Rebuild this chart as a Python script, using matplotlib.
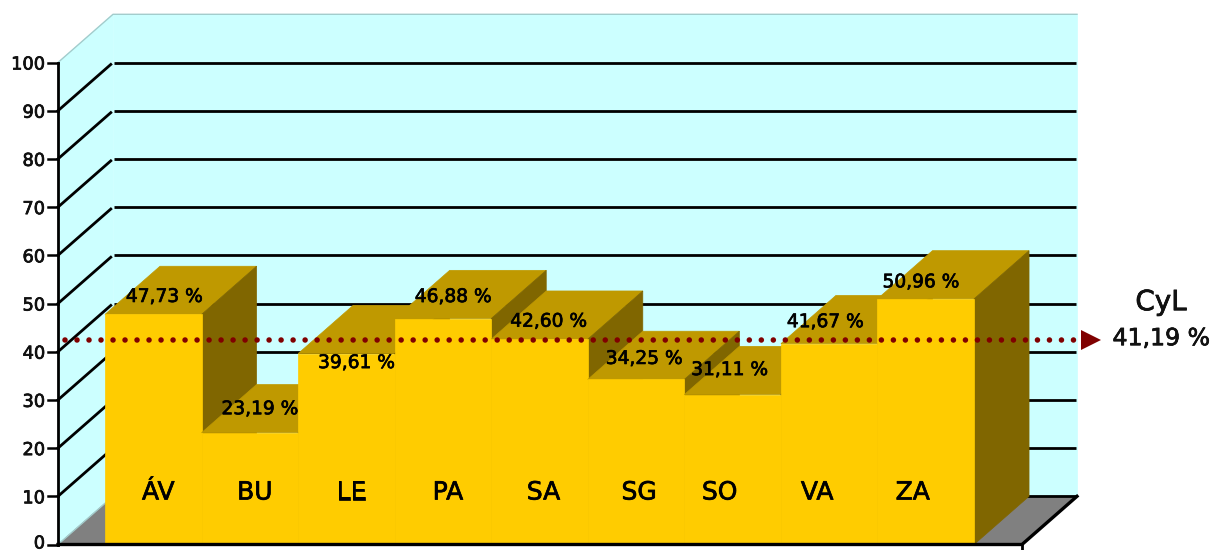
"""Province bars on a fake 3D wall, with the CyL average as a dotted line."""
import numpy as np
import matplotlib; matplotlib.use("Agg")
import matplotlib.pyplot as plt
import matplotlib.patheffects as pe
from matplotlib.patches import Polygon

provinces = ["ÁV", "BU", "LE", "PA", "SA", "SG", "SO", "VA", "ZA"]
values = [47.73, 23.19, 39.61, 46.88, 42.60, 34.25, 31.11, 41.67, 50.96]
value_labels = ["47,73 %", "23,19 %", "39,61 %", "46,88 %", "42,60 %", "34,25 %", "31,11 %", "41,67 %", "50,96 %"]
y_ticks = [0, 10, 20, 30, 40, 50, 60, 70, 80, 90, 100]
cyl_name = "CyL"
cyl_value = 41.19
cyl_label = "41,19 %"

# label nudges in pixels, the source chart places them by hand
value_nudge = [(11, 18), (10, 24), (10, -9), (10, 22), (9, 18), (8, 21), (-3, 25), (-4, 22), (-5, 17)]
name_nudge = [5, 5, 5, 5, 4, 3, -13, -12, -13]

FRONT, TOP, SIDE = "#FFCC00", "#BF9900", "#806600"
WALL, FLOOR, EDGE, RED = "#CCFFFF", "#808080", "#A3CCCC", "#800000"
FONT = "DejaVu Sans"
HEAVY = [pe.withStroke(linewidth=0.5, foreground="black")]
SLOT = 96.56        # px per bar
UNIT = 4.82         # px per percentage point
DX, DY = 55 / SLOT, 10.0   # depth of the fake 3D
LEFT, RIGHT = -47 / SLOT, 917 / SLOT

fig = plt.figure(figsize=(12.14, 5.5), dpi=100)
ax = fig.add_axes([0, 0, 1, 1])
ax.set_xlim(-105 / SLOT, (1214 - 105) / SLOT)
ax.set_ylim(-5.5 / UNIT, 544.5 / UNIT)
ax.axis("off")

def poly(pts, color, z, edge=None):
    ax.add_patch(Polygon(pts, closed=True, fc=color, ec=edge or color, lw=0.5, zorder=z))

# walls and floor
poly([(LEFT, 0), (LEFT, 100), (LEFT + DX, 100 + DY), (LEFT + DX, DY)], WALL, 1)
poly([(LEFT + DX, DY), (LEFT + DX, 100 + DY), (RIGHT + DX, 100 + DY), (RIGHT + DX, DY)], WALL, 1)
poly([(LEFT, 0), (RIGHT, 0), (RIGHT + DX, DY), (LEFT + DX, DY)], FLOOR, 1.5)
ax.plot([LEFT, LEFT + DX, RIGHT + DX], [100, 100 + DY, 100 + DY], color=EDGE, lw=1, zorder=2)
ax.plot([LEFT, LEFT + DX, RIGHT + DX], [0, DY, DY], color=EDGE, lw=1, zorder=2)

# grid on both walls
for t in y_ticks[1:-1]:
    ax.plot([LEFT, LEFT + DX * 0.96], [t, t + DY * 0.96], color="black", lw=2, zorder=2)
for t in y_ticks[1:]:
    ax.plot([LEFT + DX * 1.02, RIGHT + DX - 0.01], [t, t], color="black", lw=2, zorder=2, solid_capstyle="butt")

# bars, left to right so each front hides the neighbour's top and side
for i, v in enumerate(values):
    z = 3 + i * 0.1
    poly([(i, v), (i + 1, v), (i + 1 + DX, v + DY), (i + DX, v + DY)], TOP, z)
    poly([(i + 1, 0), (i + 1, v), (i + 1 + DX, v + DY), (i + 1 + DX, DY)], SIDE, z)
    poly([(i, 0), (i + 1, 0), (i + 1, v), (i, v)], FRONT, z + 0.05)

# axes on top of the bars
ax.plot([LEFT, LEFT], [0, 100], color="black", lw=2, zorder=6)
ax.plot([LEFT, RIGHT, RIGHT + DX], [0, 0, DY], color="black", lw=2.4, zorder=6, solid_joinstyle="miter")
ax.plot([RIGHT, RIGHT], [0, -2], color="black", lw=2, zorder=6)
for t in y_ticks:
    ax.plot([LEFT - 10 / SLOT, LEFT], [t, t], color="black", lw=1.8, zorder=6)
    ax.annotate(str(t), (LEFT, t), xytext=(-13, 3 if t == 0 else 0), textcoords="offset pixels", ha="right",
                va="center_baseline", fontsize=12.8, family=FONT, color="#111111", zorder=7,
                annotation_clip=False, path_effects=HEAVY)

# average line
line_y = cyl_value + 1.2
ax.plot([LEFT + 7 / SLOT, RIGHT + DX], [line_y, line_y], color=RED, lw=4, zorder=8,
        linestyle=(0, (0.001, 2.16)), dash_capstyle="round")
ax.plot([RIGHT + DX + 0.15], [line_y], marker=">", color=RED, ms=14, mew=0, zorder=8)
ax.annotate(cyl_name, (RIGHT + DX, line_y), xytext=(84, 38), textcoords="offset pixels", ha="center", va="center",
            fontsize=20, family=FONT, color="#111111", path_effects=HEAVY)
ax.annotate(cyl_label, (RIGHT + DX, line_y), xytext=(84, 2), textcoords="offset pixels", ha="center", va="center",
            fontsize=17, family=FONT, color="#111111", path_effects=HEAVY)

# value and province labels
for i, (v, lab, name) in enumerate(zip(values, value_labels, provinces)):
    nx, ny = value_nudge[i]
    ax.annotate(lab, (i + 0.5, v), xytext=(nx, ny), textcoords="offset pixels", ha="center", va="center",
                fontsize=13.4, family=FONT, color="black", zorder=9, path_effects=HEAVY)
    ax.annotate(name, (i + 0.5, 0), xytext=(name_nudge[i], 52), textcoords="offset pixels", ha="center", va="center",
                fontsize=18, family=FONT, color="black", zorder=9, path_effects=HEAVY)

fig.savefig("out.png", dpi=100)
